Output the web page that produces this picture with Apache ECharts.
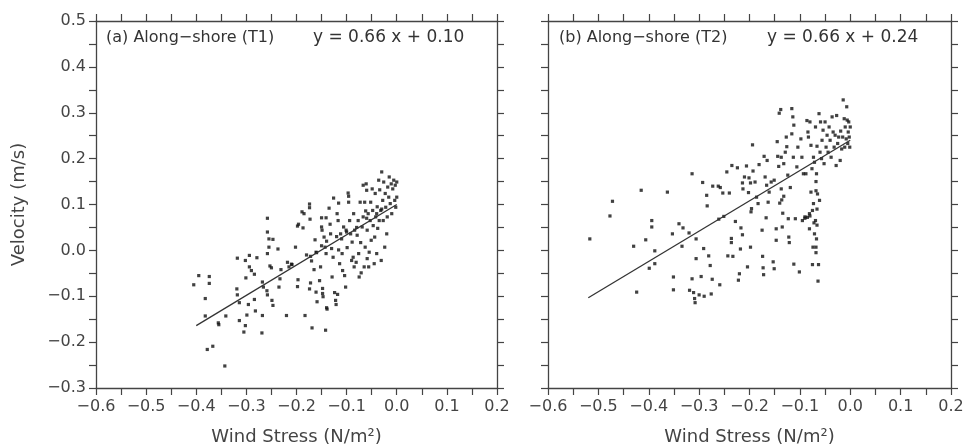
<!DOCTYPE html>
<html>
<head>
<meta charset="utf-8">
<script src="https://cdn.jsdelivr.net/npm/echarts@6/dist/echarts.min.js"></script>
<style>
  html, body { margin: 0; padding: 0; background: #fff; }
  #chart { width: 966px; height: 444px; }
</style>
</head>
<body>
<div id="chart"></div>
<script>
// wind stress (N/m2), velocity (m/s) — panel (a) T1
var pointsT1 = [
  [-0.405,-0.075],[-0.395,-0.055],[-0.374,-0.057],[-0.374,-0.072],[-0.382,-0.105],[-0.382,-0.143],
  [-0.378,-0.216],[-0.367,-0.209],[-0.356,-0.158],[-0.355,-0.162],[-0.343,-0.252],[-0.341,-0.143],
  [-0.318,-0.017],[-0.319,-0.084],[-0.318,-0.097],[-0.314,-0.114],[-0.314,-0.153],[-0.305,-0.178],
  [-0.302,-0.022],[-0.301,-0.060],[-0.299,-0.141],[-0.302,-0.164],[-0.294,-0.011],[-0.294,-0.036],
  [-0.290,-0.044],[-0.284,-0.052],[-0.296,-0.118],[-0.284,-0.107],[-0.282,-0.132],[-0.279,-0.016],
  [-0.268,-0.069],[-0.266,-0.080],[-0.269,-0.180],[-0.268,-0.142],[-0.258,0.070],[-0.258,0.040],
  [-0.255,0.025],[-0.255,0.007],[-0.258,-0.007],[-0.259,-0.088],[-0.258,-0.097],[-0.253,-0.034],
  [-0.250,-0.038],[-0.247,0.024],[-0.249,-0.109],[-0.247,-0.120],[-0.237,0.003],[-0.233,-0.062],
  [-0.235,-0.080],[-0.231,-0.042],[-0.220,-0.142],[-0.218,-0.026],[-0.215,-0.036],[-0.209,-0.031],
  [-0.202,0.007],[-0.197,-0.064],[-0.198,-0.079],[-0.198,0.053],[-0.196,0.057],[-0.189,0.084],
  [-0.185,0.080],[-0.187,0.049],[-0.183,-0.142],[-0.174,0.101],[-0.174,0.093],[-0.173,0.068],
  [-0.172,-0.013],[-0.170,-0.023],[-0.172,-0.071],[-0.174,-0.084],[-0.169,-0.169],[-0.165,-0.042],
  [-0.163,0.023],[-0.161,-0.004],[-0.161,-0.091],[-0.159,-0.112],[-0.154,-0.066],[-0.152,-0.036],
  [-0.150,0.071],[-0.150,0.051],[-0.149,0.044],[-0.148,-0.083],[-0.148,-0.094],[-0.147,-0.101],
  [-0.145,0.029],[-0.143,0.007],[-0.142,-0.174],[-0.141,0.071],[-0.141,-0.007],[-0.140,-0.125],
  [-0.139,-0.128],[-0.135,0.092],[-0.133,0.057],[-0.132,0.036],[-0.130,0.004],[-0.129,-0.058],
  [-0.127,-0.015],[-0.126,0.114],[-0.124,-0.092],[-0.122,-0.109],[-0.121,-0.118],[-0.119,0.080],
  [-0.118,-0.096],[-0.117,0.065],[-0.116,0.103],[-0.116,0.001],[-0.114,-0.029],[-0.112,0.036],
  [-0.110,0.025],[-0.109,-0.007],[-0.108,-0.044],[-0.106,0.051],[-0.104,-0.055],[-0.102,-0.080],
  [-0.101,0.044],[-0.099,0.006],[-0.097,0.125],[-0.096,0.118],[-0.096,0.105],[-0.094,0.065],
  [-0.092,0.036],[-0.090,-0.022],[-0.089,0.018],[-0.087,-0.015],[-0.086,0.080],[-0.085,-0.036],
  [-0.084,0.044],[-0.081,-0.026],[-0.079,0.033],[-0.077,0.065],[-0.076,-0.007],[-0.075,-0.058],
  [-0.073,0.105],[-0.072,0.017],[-0.071,-0.049],[-0.069,0.051],[-0.067,0.142],[-0.067,0.073],
  [-0.065,-0.036],[-0.064,0.105],[-0.063,0.007],[-0.062,0.086],[-0.061,0.145],[-0.060,0.131],
  [-0.059,-0.018],[-0.059,0.044],[-0.057,0.080],[-0.056,-0.036],[-0.055,-0.004],[-0.053,0.065],
  [-0.052,0.105],[-0.051,0.022],[-0.049,0.134],[-0.048,0.087],[-0.047,0.054],[-0.045,-0.029],
  [-0.044,0.029],[-0.043,0.124],[-0.042,0.073],[-0.040,-0.007],[-0.039,0.095],[-0.038,0.048],
  [-0.036,0.153],[-0.035,0.065],[-0.034,0.132],[-0.032,0.087],[-0.031,-0.022],[-0.030,0.171],
  [-0.028,0.109],[-0.027,0.065],[-0.026,0.149],[-0.024,0.007],[-0.023,0.124],[-0.022,0.094],
  [-0.020,0.036],[-0.019,0.073],[-0.018,0.138],[-0.016,0.116],[-0.015,0.160],[-0.013,0.102],
  [-0.011,0.145],[-0.010,0.080],[-0.008,0.134],[-0.006,0.153],[-0.004,0.109],[-0.003,0.142],
  [-0.002,0.094],[0.000,0.149],[0.000,0.116],[-0.210,-0.030],[-0.180,-0.010],[-0.160,-0.005],
  [-0.150,0.010],[-0.140,0.020],[-0.120,0.030],[-0.100,0.040],[-0.080,0.050],[-0.060,0.070],
  [-0.040,0.080],[-0.030,0.090]
];

// panel (b) T2
var pointsT2 = [
  [-0.517,0.025],[-0.477,0.075],[-0.472,0.107],[-0.415,0.131],[-0.430,0.009],[-0.424,-0.091],
  [-0.406,0.023],[-0.399,-0.039],[-0.394,0.065],[-0.394,0.051],[-0.388,-0.001],[-0.388,-0.029],
  [-0.363,0.127],[-0.353,0.036],[-0.351,-0.058],[-0.351,-0.086],[-0.340,0.058],[-0.334,0.009],
  [-0.332,0.049],[-0.320,0.038],[-0.319,-0.087],[-0.314,0.167],[-0.314,-0.062],[-0.311,-0.092],
  [-0.309,-0.105],[-0.306,-0.018],[-0.306,0.025],[-0.308,-0.114],[-0.300,-0.097],[-0.296,-0.057],
  [-0.293,0.148],[-0.291,0.004],[-0.290,-0.100],[-0.285,0.120],[-0.284,0.097],[-0.281,-0.012],
  [-0.278,-0.033],[-0.276,-0.095],[-0.274,-0.063],[-0.273,0.140],[-0.262,0.140],[-0.261,0.068],
  [-0.259,-0.075],[-0.258,0.137],[-0.253,0.125],[-0.251,0.074],[-0.245,0.171],[-0.243,-0.012],
  [-0.240,0.125],[-0.236,0.026],[-0.236,0.017],[-0.235,0.185],[-0.233,-0.013],[-0.228,0.063],
  [-0.224,0.180],[-0.222,-0.065],[-0.220,-0.051],[-0.218,0.003],[-0.217,0.049],[-0.214,0.147],
  [-0.214,0.034],[-0.213,0.134],[-0.210,0.160],[-0.206,0.184],[-0.204,-0.036],[-0.202,0.126],
  [-0.201,0.158],[-0.198,0.147],[-0.198,0.007],[-0.197,0.084],[-0.196,0.091],[-0.194,0.230],
  [-0.193,0.173],[-0.189,0.149],[-0.186,0.116],[-0.183,0.102],[-0.181,0.187],[-0.175,0.044],
  [-0.174,-0.013],[-0.173,-0.038],[-0.172,-0.053],[-0.171,0.205],[-0.169,0.160],[-0.167,0.071],
  [-0.166,0.142],[-0.165,0.196],[-0.163,0.105],[-0.161,0.127],[-0.157,0.149],[-0.153,-0.025],
  [-0.151,0.153],[-0.151,-0.040],[-0.147,0.047],[-0.147,0.022],[-0.145,0.237],[-0.144,0.205],
  [-0.142,0.183],[-0.141,0.299],[-0.140,0.103],[-0.138,0.307],[-0.137,0.203],[-0.137,0.134],
  [-0.136,0.110],[-0.135,0.051],[-0.134,0.081],[-0.132,0.189],[-0.132,0.118],[-0.129,0.214],
  [-0.127,0.247],[-0.126,0.226],[-0.124,0.164],[-0.123,0.069],[-0.122,0.029],[-0.121,0.017],
  [-0.119,0.137],[-0.116,0.254],[-0.116,0.309],[-0.114,0.291],[-0.113,0.203],[-0.112,0.273],
  [-0.112,-0.030],[-0.109,0.069],[-0.106,0.182],[-0.104,0.225],[-0.101,-0.047],[-0.098,0.243],
  [-0.096,0.203],[-0.093,0.167],[-0.090,0.073],[-0.088,0.167],[-0.086,0.283],[-0.084,0.258],
  [-0.083,0.247],[-0.081,0.080],[-0.081,0.047],[-0.080,0.280],[-0.078,0.229],[-0.078,0.127],
  [-0.076,0.178],[-0.075,-0.031],[-0.075,0.087],[-0.074,0.007],[-0.073,0.203],[-0.073,0.102],
  [-0.071,0.036],[-0.071,0.192],[-0.069,0.269],[-0.069,0.065],[-0.068,0.007],[-0.067,0.167],
  [-0.066,0.227],[-0.065,0.123],[-0.064,-0.067],[-0.063,-0.031],[-0.062,0.298],[-0.061,0.109],
  [-0.060,0.214],[-0.059,0.280],[-0.057,0.200],[-0.056,0.240],[-0.054,0.262],[-0.052,0.189],
  [-0.050,0.280],[-0.048,0.225],[-0.046,0.251],[-0.044,0.214],[-0.042,0.269],[-0.040,0.240],
  [-0.038,0.203],[-0.036,0.291],[-0.034,0.258],[-0.032,0.225],[-0.030,0.251],[-0.028,0.185],
  [-0.027,0.294],[-0.025,0.233],[-0.023,0.247],[-0.020,0.196],[-0.019,0.260],[-0.017,0.221],
  [-0.015,0.247],[-0.014,0.328],[-0.012,0.287],[-0.011,0.225],[-0.010,0.269],[-0.008,0.243],
  [-0.007,0.313],[-0.006,0.284],[-0.005,0.233],[-0.004,0.258],[-0.003,0.280],[-0.002,0.247],
  [-0.001,0.225],[0.000,0.269],[-0.068,0.150],[-0.068,0.130],[-0.066,0.090],[-0.066,0.055],
  [-0.067,0.025],[-0.068,-0.005],[-0.072,0.060],[-0.080,0.075],[-0.085,0.072],[-0.090,0.070],
  [-0.095,0.065]
];

// regression fits: y = slope * x + intercept, drawn over the data range
var slopes = [0.66, 0.66];
var intercepts = [0.10, 0.24];
var fitRanges = [[-0.40, 0.0], [-0.52, 0.0]];
var panelLabels = ['(a) Along−shore (T1)', '(b) Along−shore (T2)'];
var fitLabels = ['y = 0.66 x + 0.10', 'y = 0.66 x + 0.24'];

var axisColor = '#444';
var fontFam = 'DejaVu Sans';

function fmt(v) {
  if (Math.abs(v * 10 - Math.round(v * 10)) > 1e-6) return '';
  return (Math.round(v * 10) / 10).toFixed(1).replace('-', '\u2212');
}

function fitLine(i) {
  return fitRanges[i].map(function (x) { return [x, slopes[i] * x + intercepts[i]]; });
}

function xAx(grid, pos, labels) {
  return {
    type: 'value', gridIndex: grid, position: pos, min: -0.6, max: 0.2, interval: 0.05,
    name: labels ? 'Wind Stress (N/m²)' : '', nameLocation: 'middle', nameGap: 40,
    nameTextStyle: { fontFamily: fontFam, fontSize: 18, color: axisColor },
    axisLine: { onZero: false, lineStyle: { color: axisColor, width: 1.3 } },
    axisTick: { length: 7, lineStyle: { color: axisColor, width: 1.2 } },
    axisLabel: { show: labels, formatter: fmt, margin: 11, fontFamily: fontFam, fontSize: 16, color: axisColor },
    splitLine: { show: false }
  };
}

function yAx(grid, pos, labels) {
  return {
    type: 'value', gridIndex: grid, position: pos, min: -0.3, max: 0.5, interval: 0.05,
    name: labels ? 'Velocity (m/s)' : '', nameLocation: 'middle', nameGap: 68,
    nameTextStyle: { fontFamily: fontFam, fontSize: 18, color: axisColor },
    axisLine: { onZero: false, lineStyle: { color: axisColor, width: 1.3 } },
    axisTick: { length: 7, lineStyle: { color: axisColor, width: 1.2 } },
    axisLabel: { show: labels, formatter: fmt, margin: 10, fontFamily: fontFam, fontSize: 16, color: axisColor },
    splitLine: { show: false }
  };
}

var chart = echarts.init(document.getElementById('chart'));
chart.setOption({
  animation: false,
  backgroundColor: '#fff',
  grid: [
    { left: 96, right: 469, top: 21, bottom: 56, containLabel: false, outerBoundsMode: 'none' },
    { left: 548, right: 15, top: 21, bottom: 56, containLabel: false, outerBoundsMode: 'none' }
  ],
  xAxis: [xAx(0, 'bottom', true), xAx(0, 'top', false), xAx(1, 'bottom', true), xAx(1, 'top', false)],
  yAxis: [yAx(0, 'left', true), yAx(0, 'right', false), yAx(1, 'left', false), yAx(1, 'right', false)],
  graphic: [
    { type: 'text', left: 106, top: 30, style: { text: panelLabels[0], font: '16px DejaVu Sans', fill: '#333' } },
    { type: 'text', left: 313, top: 29, style: { text: fitLabels[0], font: '17px DejaVu Sans', fill: '#333' } },
    { type: 'text', left: 559, top: 30, style: { text: panelLabels[1], font: '16px DejaVu Sans', fill: '#333' } },
    { type: 'text', left: 767, top: 29, style: { text: fitLabels[1], font: '17px DejaVu Sans', fill: '#333' } }
  ],
  series: [
    { type: 'scatter', xAxisIndex: 0, yAxisIndex: 0, data: pointsT1, symbol: 'rect', symbolSize: 3.2,
      itemStyle: { color: '#111' } },
    { type: 'line', xAxisIndex: 0, yAxisIndex: 0, data: fitLine(0), symbol: 'none',
      lineStyle: { color: '#333', width: 1.3 } },
    { type: 'scatter', xAxisIndex: 2, yAxisIndex: 2, data: pointsT2, symbol: 'rect', symbolSize: 3.2,
      itemStyle: { color: '#111' } },
    { type: 'line', xAxisIndex: 2, yAxisIndex: 2, data: fitLine(1), symbol: 'none',
      lineStyle: { color: '#333', width: 1.3 } }
  ]
});
</script>
</body>
</html>
